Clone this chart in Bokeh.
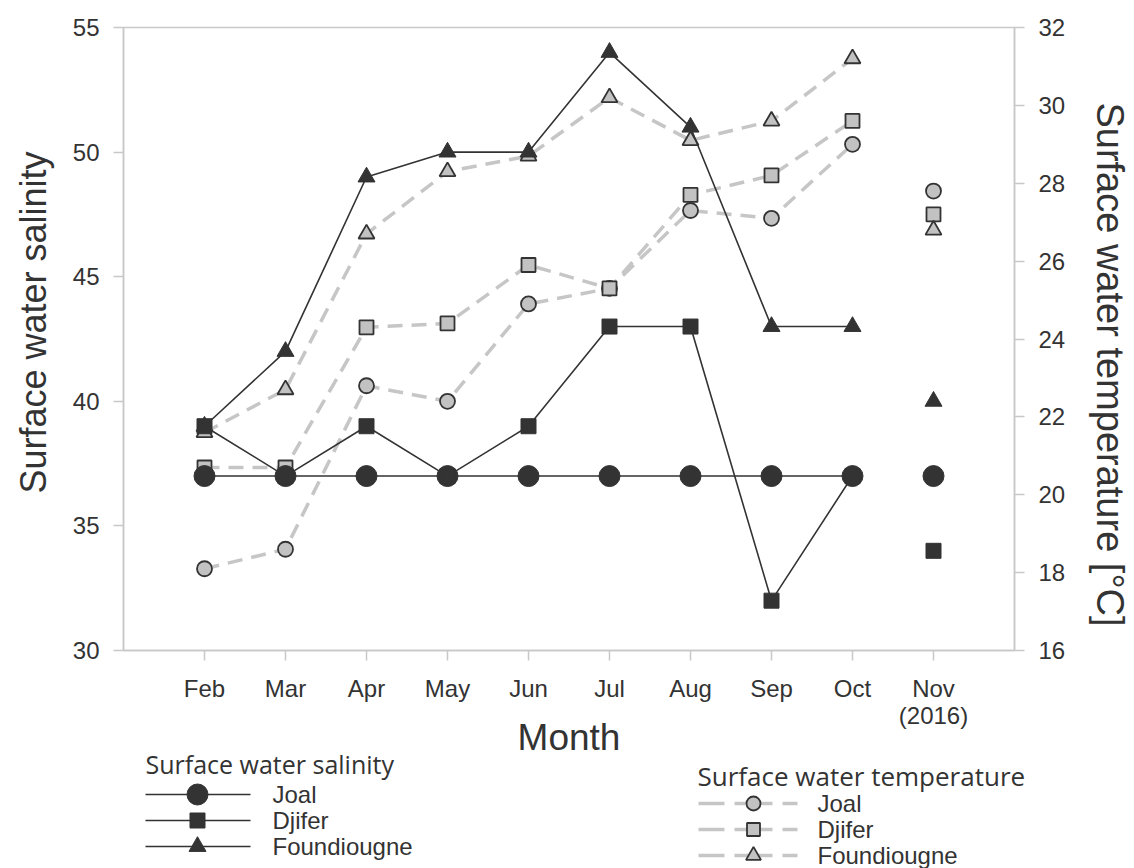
import math
from bokeh.plotting import figure
from bokeh.models import Range1d, LinearAxis, FixedTicker, GridBox
from bokeh.embed import file_html
from bokeh.resources import INLINE
from bokeh.core.properties import value

# ---------------- data ----------------
months = ["Feb", "Mar", "Apr", "May", "Jun", "Jul", "Aug", "Sep", "Oct", "Nov"]
month_labels = ["Feb", "Mar", "Apr", "May", "Jun", "Jul", "Aug", "Sep", "Oct", "Nov\n(2016)"]

sal_joal = [37, 37, 37, 37, 37, 37, 37, 37, 37, 37]
sal_djifer = [39, 37, 39, 37, 39, 43, 43, 32, 37, 34]
sal_found = [39, 42, 49, 50, 50, 54, 51, 43, 43, 40]

temp_joal = [18.1, 18.6, 22.8, 22.4, 24.9, 25.3, 27.3, 27.1, 29.0, 27.8]
temp_djifer = [20.7, 20.7, 24.3, 24.4, 25.9, 25.3, 27.7, 28.2, 29.6, 27.2]
temp_found = [21.6, 22.7, 26.7, 28.3, 28.7, 30.2, 29.1, 29.6, 31.2, 26.8]

sites = ["Joal", "Djifer", "Foundiougne"]
sal_ticks = [30, 35, 40, 45, 50, 55]
temp_ticks = [16, 18, 20, 22, 24, 26, 28, 30, 32]

# ---------------- styles ----------------
DARK = "#333333"
GRAY_FILL = "#c2c2c2"
GRAY_LINE = "#c6c6c6"
FRAME = "#c8c8c8"
FONT = "Liberation Sans"
DASH = "15 9"

W, H = 1134, 868
FL, FR, FT, FB = 123, 1014, 27, 650   # frame edges in page pixels

xs = list(range(len(months)))
xs_line = xs[:-1]

p = figure(width=W, height=H, x_range=Range1d(-1, 10), y_range=Range1d(30, 55),
           output_backend="svg", toolbar_location=None,
           min_border_left=FL, min_border_right=W - FR, min_border_top=FT,
           min_border_bottom=H - FB)
p.extra_y_ranges = {"temp": Range1d(16, 32)}
p.outline_line_color = FRAME
p.outline_line_width = 1.5
p.grid.visible = False
p.background_fill_color = "white"
p.border_fill_color = "white"

# x axis
xa = p.xaxis[0]
xa.ticker = FixedTicker(ticks=xs)
xa.major_label_overrides = {i: lab for i, lab in enumerate(month_labels)}
xa.axis_label = "Month"

# left axis
ya = p.yaxis[0]
ya.ticker = FixedTicker(ticks=sal_ticks)

# right axis
ra = LinearAxis(y_range_name="temp", ticker=FixedTicker(ticks=temp_ticks))
p.add_layout(ra, "right")

for ax in [xa, ya, ra]:
    ax.axis_line_color = FRAME
    ax.axis_line_width = 1.5
    ax.major_tick_line_color = FRAME
    ax.major_tick_line_width = 1.5
    ax.major_tick_out = 10
    ax.major_tick_in = 0
    ax.minor_tick_line_color = None
    ax.major_label_text_font = FONT
    ax.major_label_text_font_size = "24px"
    ax.major_label_text_color = DARK
    ax.major_label_text_line_height = 1.0
    ax.major_label_standoff = 14
    ax.axis_label_text_font = FONT
    ax.axis_label_text_font_style = "normal"
    ax.axis_label_text_color = DARK
    ax.axis_label_text_line_height = 1.0

xa.axis_label_standoff = -15
xa.axis_label_text_font_size = "37px"

# ---------------- temperature (dashed gray) ----------------
temp_series = [temp_joal, temp_djifer, temp_found]
temp_markers = ["circle", "square", "triangle"]
temp_sizes = [15, 14, 16]
for vals in temp_series:
    p.line(xs_line, vals[:-1], y_range_name="temp", line_color=GRAY_LINE,
           line_width=3.5, line_dash=DASH)
for vals, mk, sz in zip(temp_series, temp_markers, temp_sizes):
    p.scatter(xs, vals, y_range_name="temp", marker=mk, size=sz,
              fill_color=GRAY_FILL, line_color=DARK, line_width=1.8)

# ---------------- salinity (solid black) ----------------
sal_series = [sal_joal, sal_djifer, sal_found]
sal_markers = ["circle", "square", "triangle"]
sal_sizes = [21, 15, 17]
for vals in sal_series:
    p.line(xs_line, vals[:-1], line_color=DARK, line_width=1.6)
for vals, mk, sz in zip(sal_series, sal_markers, sal_sizes):
    p.scatter(xs, vals, marker=mk, size=sz, fill_color=DARK, line_color=DARK,
              line_width=1)

# ---------------- transparent overlay: vertical axis titles and legends ----------------
lg = figure(width=W, height=H, x_range=Range1d(0, W), y_range=Range1d(H, 0),
            output_backend="svg", toolbar_location=None,
            x_axis_location=None, y_axis_location=None, min_border=0,
            outline_line_color=None)
lg.grid.visible = False
lg.background_fill_alpha = 0
lg.border_fill_alpha = 0

for fig in (p, lg):
    try:
        fig.frame_align = False
    except Exception:
        pass

# vertical axis titles (placed off-centre, as in the original)
lg.text(x=[33], y=[322], text=["Surface water salinity"], angle=math.pi / 2,
        text_font=value(FONT), text_font_size="36px", text_color=DARK,
        text_baseline="middle", text_align="center")
lg.text(x=[1109], y=[364], text=["Surface water temperature [°C]"], angle=-math.pi / 2,
        text_font=value(FONT), text_font_size="38px", text_color=DARK,
        text_baseline="middle", text_align="center")

# salinity legend
lg.text(x=[145], y=[763], text=["Surface water salinity"], text_font=value("Open Sans"),
        text_font_size="25px", text_color=DARK, text_baseline="middle", text_align="left")
rows_l = [794, 820, 846]
for site, yy, mk, sz in zip(sites, rows_l, sal_markers, sal_sizes):
    lg.line([145, 250], [yy, yy], line_color=DARK, line_width=1.6)
    lg.scatter([197], [yy], marker=mk, size=sz, fill_color=DARK, line_color=DARK)
    lg.text(x=[272], y=[yy], text=[site], text_font=value(FONT), text_font_size="24px",
            text_color=DARK, text_baseline="middle", text_align="left")

# temperature legend
lg.text(x=[697], y=[775], text=["Surface water temperature"], text_font=value("Open Sans"),
        text_font_size="26px", text_color=DARK, text_baseline="middle", text_align="left")
rows_r = [803, 829, 855]
for site, yy, mk, sz in zip(sites, rows_r, temp_markers, temp_sizes):
    lg.line([698, 724], [yy, yy], line_color=GRAY_LINE, line_width=3.5)
    lg.line([734, 772], [yy, yy], line_color=GRAY_LINE, line_width=3.5)
    lg.line([782, 797], [yy, yy], line_color=GRAY_LINE, line_width=3.5)
    lg.scatter([753], [yy], marker=mk, size=sz - 1, fill_color=GRAY_FILL,
               line_color=DARK, line_width=1.8)
    lg.text(x=[817], y=[yy], text=[site], text_font=value(FONT), text_font_size="24px",
            text_color=DARK, text_baseline="middle", text_align="left")

layout = GridBox(children=[(p, 0, 0), (lg, 0, 0)])
open("out.html", "w").write(file_html(layout, INLINE))
